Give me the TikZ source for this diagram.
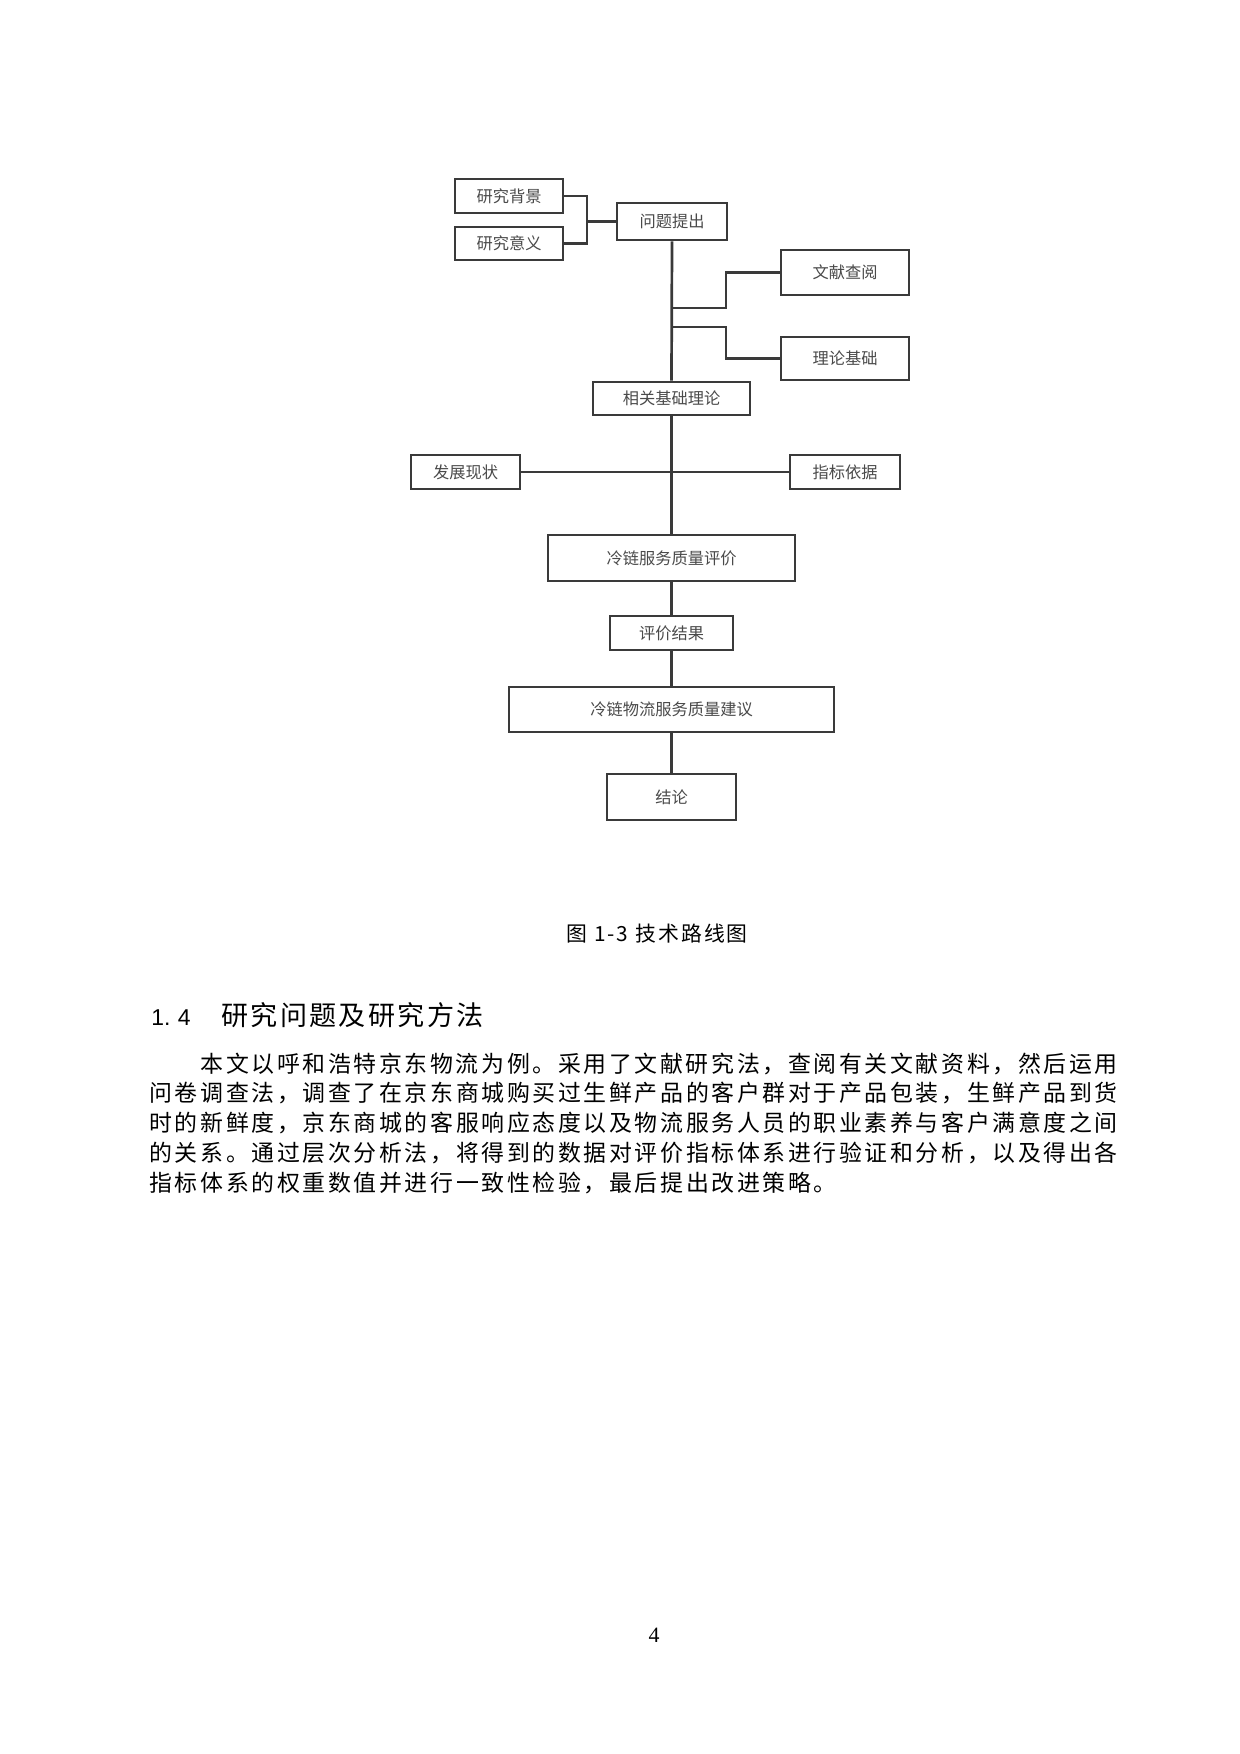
\documentclass[tikz,border=0pt]{standalone}
\usepackage{fontspec}
\setmainfont{Liberation Serif}
\newfontfamily\cjk{Noto Sans CJK SC}
\newfontfamily\cjkbody[LetterSpace=11.5]{Noto Sans CJK SC}
\newfontfamily\cjkhead[LetterSpace=8.5]{Noto Sans CJK SC}
\newfontfamily\cjkcap[LetterSpace=10]{Noto Sans CJK SC}
\newfontfamily\arialf{Liberation Sans}
\definecolor{ln}{HTML}{3A3A3A}
\definecolor{tx}{HTML}{4A4A4A}
\newcommand{\bx}[6]{\node[box, minimum width={(#4-#2)*0.48pt}, minimum height={(#5-#3)*0.48pt}] (#1) at ({(#2+#4)/2},{(#3+#5)/2}) {#6};}
\begin{document}
\begin{tikzpicture}[x=0.48pt,y=-0.48pt,
  box/.style={draw=ln, line width=1.3pt, inner sep=0pt, fill=white,
    font=\cjk\fontsize{7.8pt}{9pt}\selectfont, text=tx},
  conn/.style={draw=ln, line width=1.3pt},
  bodyline/.style={anchor=base west, inner sep=0pt,
    font=\cjkbody\fontsize{11pt}{14.4pt}\selectfont}]
\useasboundingbox (0,0) rectangle (1240,1754);
% boxes
\bx{bg}{455}{179}{563}{213}{研究背景}
\bx{yy}{455}{227}{563}{260}{研究意义}
\bx{wt}{617}{203}{727}{240}{问题提出}
\bx{wx}{781}{250}{909}{295}{文献查阅}
\bx{ll}{781}{337}{909}{380}{理论基础}
\bx{xg}{593}{382}{750}{415}{相关基础理论}
\bx{fz}{411}{455}{520}{489}{发展现状}
\bx{zb}{790}{455}{900}{489}{指标依据}
\bx{lp}{548}{535}{795}{581}{冷链服务质量评价}
\bx{pj}{610}{616}{733}{650}{评价结果}
\bx{jy}{509}{687}{834}{732}{冷链物流服务质量建议}
\bx{jl}{607}{774}{736}{820}{结论}
% junctions
\coordinate (j1) at (587,221.5);
\coordinate (b1) at (671.5,308);
\coordinate (b1t) at (726,308);
\coordinate (b2) at (671.5,327);
\coordinate (b2t) at (726,327);
% connectors
\draw[conn] (bg.east) -| (j1);
\draw[conn] (yy.east) -| (j1);
\draw[conn] (j1) -- (wt.west);
\draw[conn] (wt.south) -- (xg.north);
\draw[conn] (b1) -- (b1t) |- (wx.west);
\draw[conn] (b2) -- (b2t) |- (ll.west);
\draw[conn] (xg.south) -- (lp.north);
\draw[conn] (fz.east) -- (zb.west);
\draw[conn] (lp.south) -- (pj.north);
\draw[conn] (pj.south) -- (jy.north);
\draw[conn] (jy.south) -- (jl.north);
% caption
\node[anchor=base west, inner sep=0pt, font=\cjkcap\fontsize{10pt}{12pt}\selectfont] (cap) at (566,941) {图 1-3 技术路线图};
% heading
\node[anchor=base west, inner sep=0pt, font=\arialf\fontsize{11pt}{13pt}\selectfont] (hnum) at (151,1025) {1.\hspace{3.5pt}4};
\node[anchor=base west, inner sep=0pt, font=\cjkhead\fontsize{13pt}{15pt}\selectfont] (htxt) at (221,1025) {研究问题及研究方法};
% body
\node[bodyline] (l1) at (149,1072) {\hspace*{24.5pt}本文以呼和浩特京东物流为例。采用了文献研究法，查阅有关文献资料，然后运用};
\node[bodyline] (l2) at (149,1101.8) {问卷调查法，调查了在京东商城购买过生鲜产品的客户群对于产品包装，生鲜产品到货};
\node[bodyline] (l3) at (149,1131.6) {时的新鲜度，京东商城的客服响应态度以及物流服务人员的职业素养与客户满意度之间};
\node[bodyline] (l4) at (149,1161.4) {的关系。通过层次分析法，将得到的数据对评价指标体系进行验证和分析，以及得出各};
\node[bodyline] (l5) at (149,1191.2) {指标体系的权重数值并进行一致性检验，最后提出改进策略。};
% page number
\node[anchor=base, inner sep=0pt, font=\fontsize{10.5pt}{12pt}\selectfont] (pg) at (654,1642) {4};
\end{tikzpicture}
\end{document}
